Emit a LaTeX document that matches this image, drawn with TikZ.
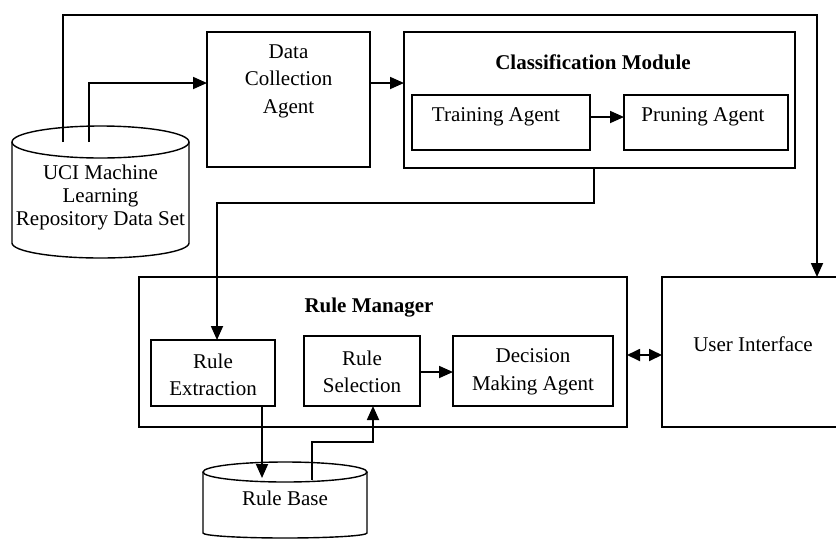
\documentclass[tikz,border=0pt]{standalone}
\usepackage{fontspec}
\setmainfont{Liberation Serif}
\usetikzlibrary{arrows.meta}
\begin{document}
\begin{tikzpicture}[x=1pt,y=-1pt,
  txt/.style={font=\fontsize{21}{27.5}\selectfont, align=center, inner sep=0pt},
  tighttxt/.style={font=\fontsize{21}{23}\selectfont, align=center, inner sep=0pt},
  ttl/.style={font=\fontsize{21}{27.5}\selectfont\bfseries, inner sep=0pt},
  boxline/.style={line width=1.4pt},
  conn/.style={line width=1.8pt, -{Triangle[length=14pt,width=12pt]}},
  dconn/.style={line width=1.8pt, {Triangle[length=13pt,width=12pt]}-{Triangle[length=13pt,width=12pt]}}]
\useasboundingbox (0,0) rectangle (836,539);
\clip (0,0) rectangle (836,539);
% boxes
\draw[boxline] (207,32) rectangle (370,167);
\node[txt] (dc) at (288.5,81) {Data\\Collection\\Agent};
\draw[boxline] (404,32) rectangle (795,168);
\node[ttl] (cm) at (593,62) {Classification Module};
\draw[boxline] (412,95) rectangle (590,150);
\node[txt] (ta) at (496,117) {Training Agent};
\draw[boxline] (624,95) rectangle (788,150);
\node[txt] (pa) at (703,117) {Pruning Agent};
\draw[boxline] (139,277) rectangle (627,427);
\node[ttl] (rm) at (369,308) {Rule Manager};
\draw[boxline] (151,340) rectangle (275,406);
\node[txt] (re) at (213,375) {Rule\\Extraction};
\draw[boxline] (304,336) rectangle (420,406);
\node[txt] (rs) at (362,372) {Rule\\Selection};
\draw[boxline] (453,336) rectangle (613,406);
\node[txt] (dm) at (533,372) {Decision\\Making Agent};
\draw[boxline] (662,277) rectangle (860,427);
\node[txt] (ui) at (753,344) {User Interface};
% cylinders
\draw[boxline] (100.5,142) ellipse [x radius=88.5pt, y radius=16pt];
\draw[boxline] (12,142) -- (12,243) arc[start angle=180, end angle=360, x radius=88.5pt, y radius=15pt] -- (189,142);
\node[tighttxt] (uci) at (100.5,197) {UCI Machine\\Learning\\Repository Data Set};
\draw[boxline] (285,472) ellipse [x radius=82pt, y radius=10pt];
\draw[boxline] (203,472) -- (203,533) arc[start angle=180, end angle=360, x radius=82pt, y radius=5pt] -- (367,472);
\node[txt] (rb) at (285,498) {Rule Base};
% connector end points
\coordinate (uciA) at (63,142);
\coordinate (uciB) at (89,142);
\coordinate (dcin) at (207,83);
\coordinate (dcout) at (370,83);
\coordinate (cmin) at (404,83);
\coordinate (taout) at (590,117);
\coordinate (pain) at (624,117);
\coordinate (cmout) at (594,168);
\coordinate (rein) at (217,340);
\coordinate (uiin) at (817,277);
\coordinate (reout) at (262,406);
\coordinate (rbin) at (262,478);
\coordinate (rbout) at (312,480);
\coordinate (rsin) at (373,406);
\coordinate (rsout) at (420,372);
\coordinate (dmin) at (453,372);
\coordinate (rmout) at (627,355);
\coordinate (uiw) at (662,355);
% connectors
\draw[conn] (uciB) |- (dcin);
\draw[conn] (dcout) -- (cmin);
\draw[conn] (taout) -- (pain);
\draw[conn] (cmout) -- (594,203) -| (rein);
\draw[conn] (uciA) -- (63,15) -| (uiin);
\draw[conn] (reout) -- (rbin);
\draw[conn] (rbout) -- (312,442) -| (rsin);
\draw[conn] (rsout) -- (dmin);
\draw[dconn] (rmout) -- (uiw);
\end{tikzpicture}
\end{document}
